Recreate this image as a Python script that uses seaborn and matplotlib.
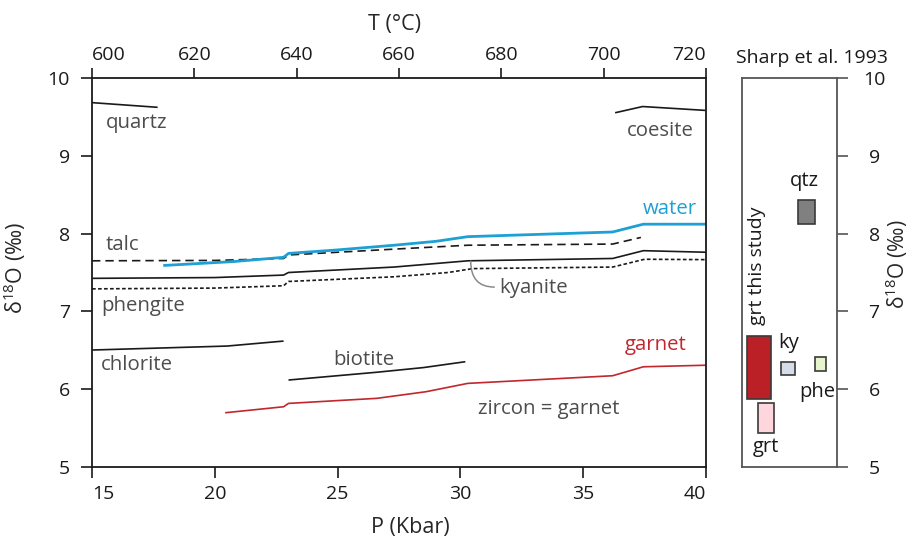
import matplotlib
matplotlib.use("Agg")
import matplotlib.pyplot as plt
import seaborn as sns
import pandas as pd

# ---------------- data ----------------
quartz_P = [15.0, 17.67]
quartz_d = [9.68, 9.62]
coesite_P = [36.3, 37.42, 40.0]
coesite_d = [9.55, 9.63, 9.58]
water_P = [17.9, 20.75, 22.8, 23.0, 25.0, 27.3, 29.0, 30.3, 36.2, 37.45, 40.0]
water_d = [7.59, 7.64, 7.695, 7.745, 7.79, 7.85, 7.90, 7.96, 8.02, 8.12, 8.12]
talc_P = [15.0, 20.0, 22.8, 23.0, 27.3, 30.3, 36.2, 37.35]
talc_d = [7.65, 7.655, 7.68, 7.725, 7.80, 7.85, 7.865, 7.95]
kyanite_P = [15.0, 20.0, 22.8, 23.0, 27.3, 30.3, 36.2, 37.45, 40.0]
kyanite_d = [7.425, 7.435, 7.467, 7.50, 7.57, 7.65, 7.68, 7.78, 7.76]
phengite_P = [15.0, 20.0, 22.8, 23.0, 27.3, 29.5, 30.5, 36.2, 37.5, 40.0]
phengite_d = [7.29, 7.30, 7.33, 7.385, 7.445, 7.50, 7.55, 7.57, 7.67, 7.665]
chlorite_P = [15.0, 20.5, 22.8]
chlorite_d = [6.505, 6.556, 6.62]
biotite_P = [23.0, 26.6, 28.5, 30.2]
biotite_d = [6.12, 6.22, 6.28, 6.355]
garnet_P = [20.42, 22.8, 23.0, 26.6, 28.6, 30.3, 36.2, 37.45, 40.0]
garnet_d = [5.70, 5.777, 5.82, 5.885, 5.97, 6.077, 6.175, 6.29, 6.31]

p_ticks = [15, 20, 25, 30, 35, 40]
t_ticks = [600, 620, 640, 660, 680, 700, 720]
d_ticks = [5, 6, 7, 8, 9, 10]

# Sharp et al. 1993 panel: ranges of delta18O
sharp_names = ["grt this study", "grt", "ky", "qtz", "phe"]
sharp_lo = [5.88, 5.44, 6.18, 8.12, 6.24]
sharp_hi = [6.69, 5.82, 6.35, 8.43, 6.41]

# ---------------- style ----------------
sns.set_style("white")
plt.rcParams["font.family"] = ["Open Sans", "DejaVu Sans"]
plt.rcParams["mathtext.fontset"] = "custom"
plt.rcParams["mathtext.rm"] = "Open Sans"
plt.rcParams["mathtext.it"] = "Open Sans:italic"
plt.rcParams["mathtext.bf"] = "Open Sans:bold"

BLACK = "#1a1a1a"
LABEL = "#4d4d4d"
BLUE = "#1ea0d4"
RED = "#c1272d"
TICKFS = 14
LABFS = 14.7

fig = plt.figure(figsize=(9.14, 5.37), dpi=100)
ax = fig.add_axes([0.1007, 0.1298, 0.6717, 0.7255])
ax2 = fig.add_axes([0.8122, 0.1298, 0.1032, 0.7255])


def line(P, d, color, lw=1.2, ls="-"):
    df = pd.DataFrame({"P": P, "d": d})
    sns.lineplot(data=df, x="P", y="d", ax=ax, color=color, lw=lw,
                 sort=False, estimator=None)
    ax.lines[-1].set_linestyle(ls)
    ax.lines[-1].set_solid_capstyle("butt")


line(quartz_P, quartz_d, BLACK)
line(coesite_P, coesite_d, BLACK)
line(talc_P, talc_d, BLACK, 1.2, (0, (5, 3)))
line(kyanite_P, kyanite_d, BLACK)
line(phengite_P, phengite_d, BLACK, 1.2, (0, (2.2, 1.4)))
line(chlorite_P, chlorite_d, BLACK)
line(biotite_P, biotite_d, BLACK)
line(garnet_P, garnet_d, RED)
line(water_P, water_d, BLUE, 2.0)

ax.set_xlim(15, 40)
ax.set_ylim(5, 10)
ax.set_xticks(p_ticks)
ax.set_yticks(d_ticks)
ax.set_xlabel("P (Kbar)", fontsize=15.5)
ax.xaxis.set_label_coords(0.518, -0.128)
ax.set_ylabel("δ$^{18}$O (‰)", fontsize=15.5)
ax.yaxis.set_label_coords(-0.104, 0.512)
for s in ax.spines.values():
    s.set_visible(True)
    s.set_color(BLACK)
    s.set_linewidth(1.3)
ax.tick_params(axis="x", direction="out", length=8, width=1.2, pad=5,
               labelsize=TICKFS, colors=BLACK, bottom=True)
ax.tick_params(axis="y", direction="out", length=8, width=1.2, pad=8,
               labelsize=TICKFS, colors=BLACK, left=True)
xl = ax.get_xticklabels()
xl[0].set_horizontalalignment("left")
xl[-1].set_horizontalalignment("right")

axt = ax.twiny()
axt.set_xlim(600, 720)
axt.set_xticks(t_ticks)
axt.tick_params(axis="x", direction="out", length=7, width=1.2, pad=3,
                labelsize=TICKFS, colors=BLACK, top=True)
tl = axt.get_xticklabels()
tl[0].set_horizontalalignment("left")
tl[-1].set_horizontalalignment("right")
axt.set_xlabel("T (°C)", fontsize=15.5)
axt.xaxis.set_label_coords(0.492, 1.122)
for s in axt.spines.values():
    s.set_visible(False)

# labels in main panel
kw = dict(fontsize=LABFS, color=LABEL, va="baseline")
ax.text(15.57, 9.36, "quartz", ha="left", **kw)
ax.text(39.52, 9.255, "coesite", ha="right", **kw)
ax.text(39.62, 8.246, "water", ha="right", fontsize=LABFS, color=BLUE, va="baseline")
ax.text(15.57, 7.79, "talc", ha="left", **kw)
ax.text(15.37, 7.0, "phengite", ha="left", **kw)
ax.text(15.37, 6.248, "chlorite", ha="left", **kw)
ax.text(24.83, 6.31, "biotite", ha="left", **kw)
ax.text(31.57, 7.24, "kyanite", ha="left", **kw)
ax.text(39.21, 6.505, "garnet", ha="right", fontsize=LABFS, color=RED, va="baseline")
ax.text(30.73, 5.69, "zircon = garnet", ha="left", **kw)
ax.annotate("", xy=(30.42, 7.645), xytext=(31.38, 7.313),
            arrowprops=dict(arrowstyle="-", color="#8a8a8a", lw=1.1,
                            shrinkA=0, shrinkB=0,
                            connectionstyle="angle3,angleA=0,angleB=90"))

# ---------------- right panel ----------------
xpos = [0.174, 0.25, 0.485, 0.682, 0.828]
widths = [0.254, 0.173, 0.151, 0.177, 0.123]
fills = ["#bb2026", "#ffd6dd", "#d6dde9", "#808080", "#e7f5cd"]
heights = [h - l for h, l in zip(sharp_hi, sharp_lo)]
ax2.bar(xpos, heights, bottom=sharp_lo, width=widths, color=fills,
        edgecolor="#3a3a3a", linewidth=1.2)
ax2.set_xlim(0, 1)
ax2.set_ylim(5, 10)
ax2.set_xticks([])
ax2.set_yticks(d_ticks)
ax2.yaxis.tick_right()
ax2.tick_params(axis="y", direction="out", length=8, width=1.2, pad=19,
                labelsize=TICKFS, colors="#555555", labelcolor=BLACK,
                right=True, left=False)
for lab in ax2.get_yticklabels():
    lab.set_horizontalalignment("center")
for s in ax2.spines.values():
    s.set_color("#555555")
    s.set_linewidth(1.3)
ax2.yaxis.set_label_position("right")
ax2.set_ylabel("δ$^{18}$O (‰)", fontsize=15, rotation=90)
ax2.yaxis.set_label_coords(1.50, 0.522)
ax2.text(0.738, 1.037, "Sharp et al. 1993", transform=ax2.transAxes,
         ha="center", va="baseline", fontsize=14, color=BLACK)

k2 = dict(fontsize=14.5, color=BLACK, ha="center", va="center")
ax2.text(0.155, 6.83, "grt this study", rotation=90, fontsize=14, color=BLACK,
         ha="center", va="bottom")
ax2.text(0.49, 6.60, "ky", **k2)
ax2.text(0.79, 5.97, "phe", **k2)
ax2.text(0.25, 5.26, "grt", **k2)
ax2.text(0.66, 8.68, "qtz", **k2)

fig.savefig("out.png", dpi=100)
